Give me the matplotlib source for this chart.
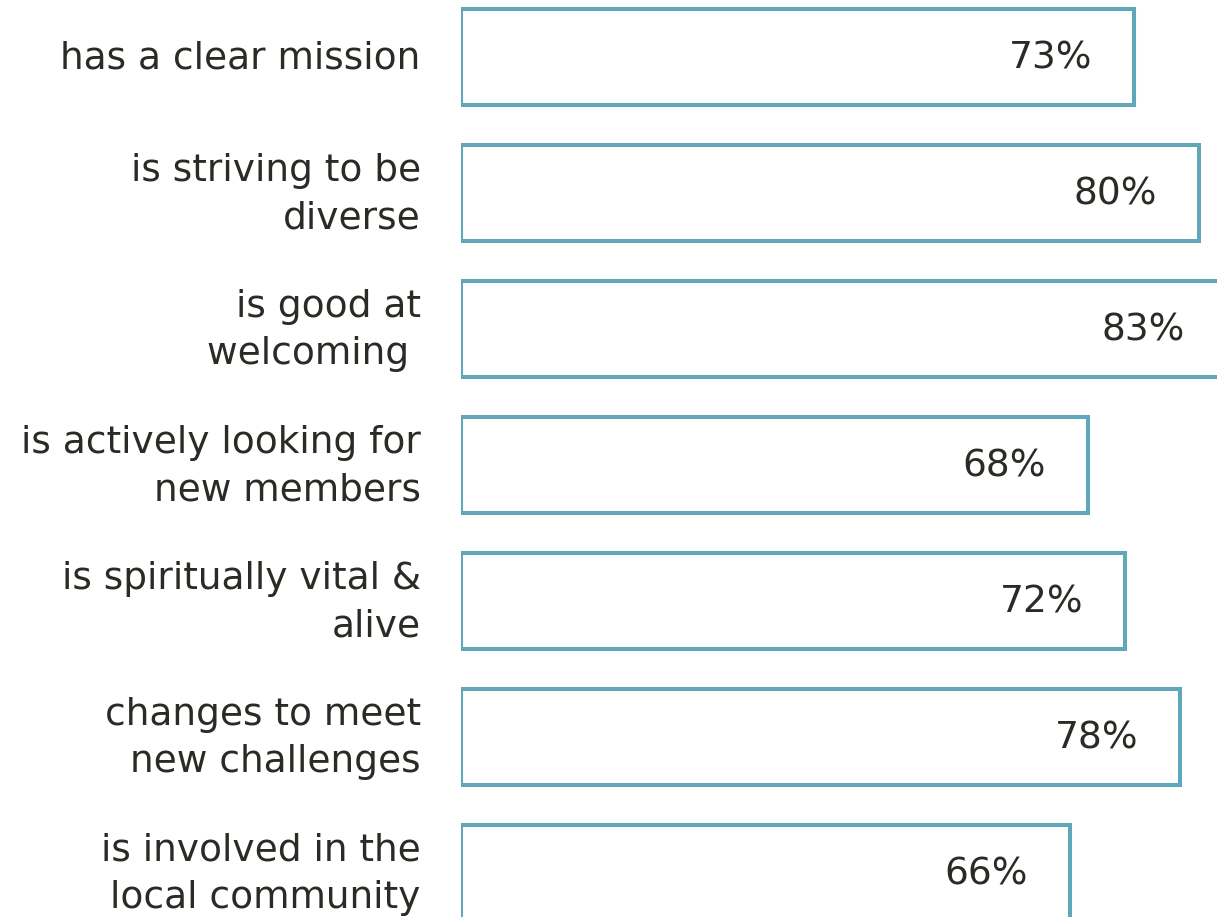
import matplotlib
matplotlib.use("Agg")
import matplotlib.pyplot as plt

categories = [
    "has a clear mission",
    "is striving to be\ndiverse",
    "is good at\nwelcoming ",
    "is actively looking for\nnew members",
    "is spiritually vital &\nalive",
    "changes to meet\nnew challenges",
    "is involved in the\nlocal community",
]
values = [73, 80, 83, 68, 72, 78, 66]

edge_color = "#5fa7b9"
text_color = "#2b2b26"

W, H = 1217, 917
fig = plt.figure(figsize=(W / 100, H / 100), dpi=100)
ax = fig.add_axes([461 / W, 0, 1 - 461 / W, 1])

ys = list(range(len(categories)))
ax.barh(ys, values, height=0.706, color="white", edgecolor=edge_color, linewidth=2.9)

ax.set_xlim(0, (W - 461) / 9.22)
ax.set_ylim((H - 57) / 136, -57 / 136)
ax.axis("off")

for y, v in zip(ys, values):
    ax.annotate(f"{v}%", xy=(v, y), xytext=(-30, -1), textcoords="offset points",
                ha="right", va="center", fontsize=27, color=text_color,
                family="DejaVu Sans", annotation_clip=False)

for y, lab in zip(ys, categories):
    ax.annotate(lab, xy=(0, y), xytext=(-29, -1), textcoords="offset points",
                ha="right", va="center", fontsize=27, color=text_color,
                family="DejaVu Sans", linespacing=1.42, annotation_clip=False)

fig.savefig("out.png", dpi=100)
